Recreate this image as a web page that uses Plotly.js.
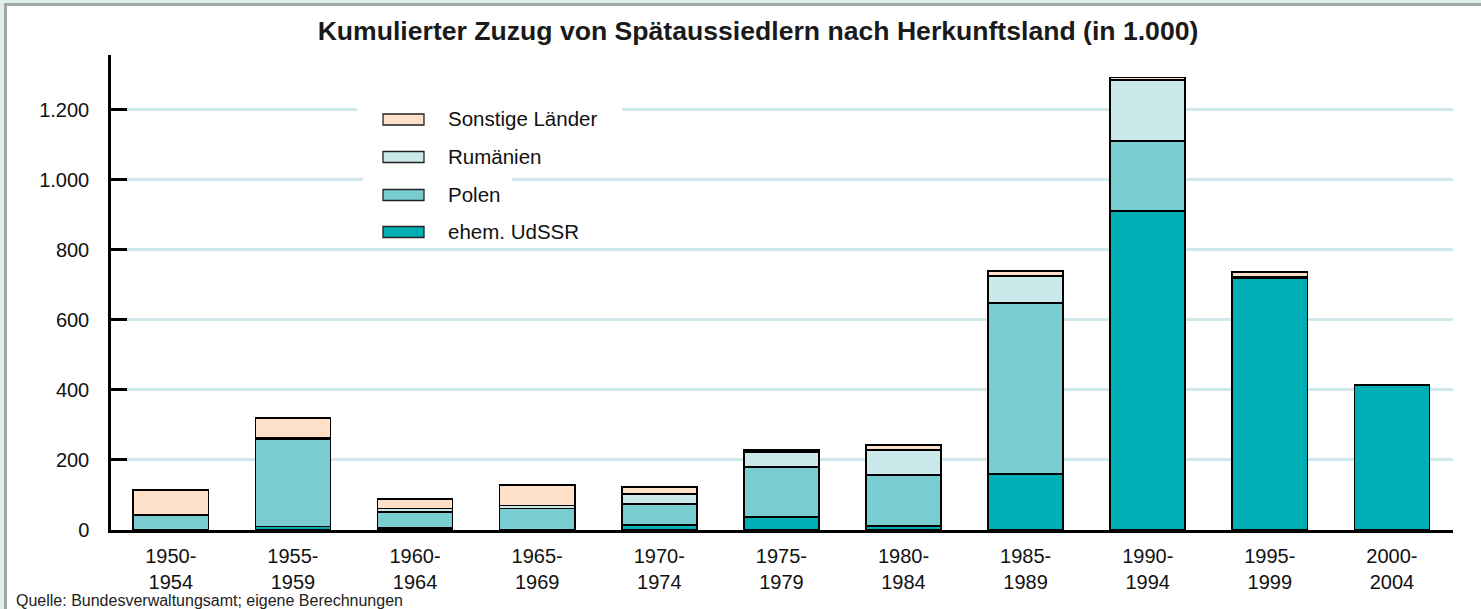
<!DOCTYPE html>
<html>
<head>
<meta charset="utf-8">
<script src="https://cdn.plot.ly/plotly-3.0.1.min.js"></script>
<style>
  html, body { margin: 0; padding: 0; background: #ffffff; }
  #wrap { position: relative; width: 1481px; height: 609px; overflow: hidden; }
  #chart { position: absolute; left: 0; top: 0; width: 1481px; height: 609px; }
  .edge { position: absolute; pointer-events: none; z-index: 10; }
</style>
</head>
<body>
<div id="wrap">
  <div id="chart"></div>
  <div class="edge" style="left:0;top:0;width:1481px;height:3px;background:#dff0ef;"></div>
  <div class="edge" style="left:0;top:0;width:4px;height:609px;background:#dff0ef;"></div>
  <div class="edge" style="left:4px;top:3px;width:1477px;height:3px;background:#9fa9a1;"></div>
  <div class="edge" style="left:4px;top:3px;width:3px;height:606px;background:#9fa9a1;"></div>
</div>
<script>
// ---- data (in 1.000) ----
const categories = ["1950-<br>1954", "1955-<br>1959", "1960-<br>1964", "1965-<br>1969", "1970-<br>1974",
                    "1975-<br>1979", "1980-<br>1984", "1985-<br>1989", "1990-<br>1994", "1995-<br>1999", "2000-<br>2004"];
const udssr     = [0, 10, 5, 2, 14, 37, 12, 160, 911, 718, 413];
const polen     = [43, 250, 47, 60, 60, 143, 145, 489, 201, 2, 1];
const rumaenien = [0, 3, 10, 8, 29, 43, 72, 77, 174, 2, 0];
const sonstige  = [72, 57, 27, 59, 20, 6, 14, 14, 7, 15, 1];

const seriesNames  = ["ehem. UdSSR", "Polen", "Rumänien", "Sonstige Länder"];
const seriesValues = [udssr, polen, rumaenien, sonstige];
const seriesColors = ["#00afb5", "#79cdd0", "#cbe8ea", "#fee0c8"];

const titleText  = "Kumulierter Zuzug von Spätaussiedlern nach Herkunftsland (in 1.000)";
const sourceText = "Quelle: Bundesverwaltungsamt; eigene Berechnungen";

// ---- layout helpers (pixel -> paper) ----
const W = 1481, H = 609;
const M = { l: 111, r: 28, t: 55, b: 79 };
const PW = W - M.l - M.r, PH = H - M.t - M.b;
const px = x => (x - M.l) / PW;
const py = y => (H - M.b - y) / PH;

const FONT = "'Liberation Sans', Arial, Helvetica, sans-serif";

const traces = seriesNames.map((name, i) => ({
  type: "bar",
  name: name,
  x: categories,
  y: seriesValues[i],
  marker: { color: seriesColors[i], line: { color: "#000000", width: 1.6 } },
  hoverinfo: "x+y+name"
}));

// manual legend (top item = Sonstige Länder)
const shapes = [
  { type: "rect", xref: "paper", yref: "paper", x0: px(357), x1: px(622), y0: py(172), y1: py(98),
    fillcolor: "#ffffff", line: { width: 0 }, layer: "above" },
  { type: "rect", xref: "paper", yref: "paper", x0: px(363), x1: px(512), y0: py(246), y1: py(171),
    fillcolor: "#ffffff", line: { width: 0 }, layer: "above" }
];
const annotations = [];
const rowY = [232, 195, 157, 119.5];
for (let i = 0; i < seriesNames.length; i++) {
  const cy = rowY[i];
  shapes.push({ type: "rect", xref: "paper", yref: "paper", x0: px(383), x1: px(424),
    y0: py(cy + 5.5), y1: py(cy - 5.5), fillcolor: seriesColors[i],
    line: { color: "#222222", width: 1.3 }, layer: "above" });
  annotations.push({ xref: "paper", yref: "paper", x: px(446), y: py(cy - 1), xanchor: "left", yanchor: "middle",
    text: seriesNames[i], showarrow: false, font: { family: FONT, size: 20.5, color: "#111111" } });
}
annotations.push({ xref: "paper", yref: "paper", x: px(14), y: py(600), xanchor: "left", yanchor: "middle",
  text: sourceText, showarrow: false, font: { family: FONT, size: 16, color: "#222222" } });

const layout = {
  width: W, height: H,
  margin: M,
  paper_bgcolor: "#ffffff",
  plot_bgcolor: "#ffffff",
  barmode: "stack",
  bargap: 0.385,
  showlegend: false,
  separators: ",.",
  font: { family: FONT, color: "#111111" },
  title: {
    text: "<b>" + titleText + "</b>",
    xref: "container", yref: "container",
    x: 758 / W, xanchor: "center",
    y: 1 - 31 / H, yanchor: "middle",
    font: { family: FONT, size: 26.6, color: "#1a1a1a" }
  },
  xaxis: {
    type: "category",
    range: [-0.49, 10.5],
    showgrid: false,
    showline: true, linecolor: "#000000", linewidth: 2.5,
    ticks: "",
    tickfont: { family: FONT, size: 20, color: "#111111" },
    ticklabelstandoff: 6,
    fixedrange: true
  },
  yaxis: {
    range: [0, 1357],
    tickvals: [0, 200, 400, 600, 800, 1000, 1200],
    tickformat: ",d",
    showgrid: true, gridcolor: "#cfe9eb", gridwidth: 2.5,
    zeroline: false,
    showline: true, linecolor: "#000000", linewidth: 2.5,
    ticks: "inside", ticklen: 16, tickwidth: 2.5, tickcolor: "#000000",
    tickfont: { family: FONT, size: 20, color: "#111111" },
    ticklabelstandoff: 15,
    fixedrange: true
  },
  shapes: shapes,
  annotations: annotations
};

Plotly.newPlot("chart", traces, layout, { displayModeBar: false, staticPlot: false });
</script>
</body>
</html>
